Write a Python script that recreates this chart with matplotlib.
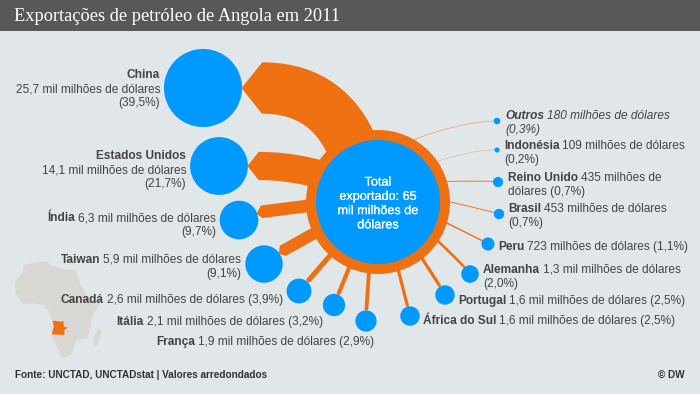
import numpy as np
import matplotlib
matplotlib.use('Agg')
import matplotlib.pyplot as plt
import matplotlib.patheffects as pe
from matplotlib.patches import Circle, Polygon, Rectangle

# data
countries = ['China', 'Estados Unidos', 'Índia', 'Taiwan', 'Canadá', 'Itália', 'França',
             'África do Sul', 'Portugal', 'Alemanha', 'Peru', 'Brasil', 'Reino Unido',
             'Indonésia', 'Outros']
values = [25.7, 14.1, 6.3, 5.9, 2.6, 2.1, 1.9, 1.6, 1.6, 1.3, 0.723, 0.453, 0.435, 0.109, 0.18]
amounts = ['25,7 mil milhões de dólares', '14,1 mil milhões de dólares', '6,3 mil milhões de dólares',
           '5,9 mil milhões de dólares', '2,6 mil milhões de dólares', '2,1 mil milhões de dólares',
           '1,9 mil milhões de dólares', '1,6 mil milhões de dólares', '1,6 mil milhões de dólares',
           '1,3 mil milhões de dólares', '723 milhões de dólares', '453 milhões de dólares',
           '435 milhões de dólares', '109 milhões de dólares', '180 milhões de dólares']
shares = [39.5, 21.7, 9.7, 9.1, 3.9, 3.2, 2.9, 2.5, 2.5, 2.0, 1.1, 0.7, 0.7, 0.2, 0.3]

title = 'Exportações de petróleo de Angola em 2011'
total_text = 'Total\nexportado: 65\nmil milhões de\ndólares'
source = 'Fonte: UNCTAD, UNCTADstat | Valores arredondados'
credit = '© DW'

# layout, everything in pixels
BG = '#e1e6e9'
ORANGE = '#ee7011'
BLUE = '#0099ff'
TEXT = '#444444'
CX, CY = 378, 202

bubble_x = [203, 219, 239, 264, 299, 334, 366, 410, 445, 470, 488, 499, 498, 497, 497]
bubble_y = [88, 166, 220, 264, 291, 305, 321, 316, 295, 274, 244, 214, 182, 150, 121]
start_deg = [0, 0, -20, -35, -48, -68, -88, -104, -120, -130, -150, -162, -174, -178, 178]
end_deg = [-115, -154, 177.5, 154.5, 132, 114, 98, 73, 51, 31, 15, -3, -20, -38, -70]
bend = [0.6, 0.5, 0, 0, 0, 0, 0, 0, 0, 0.15, 0, 0, 0.1, 0.3, 0.4]

align = ['right'] * 7 + ['left'] * 8
label_x = [160, 186, 216, 241, 283, 323, 374, 423, 458, 483, 498, 508, 508, 504, 505]
label_y = [74, 155, 217, 259, 299, 321, 341, 320, 300, 269, 246, 208, 177, 145, 115]
words_per_line = [[1, 5, 1], [2, 5, 1], [6, 1], [6, 1], [7], [7], [7], [9], [7], [6, 1],
                  [6], [5, 1], [5, 2], [5, 1], [5, 1]]

africa = np.array([(43, 85), (68, 50), (72, 30), (105, 22), (145, 18), (150, 32), (175, 38),
                   (205, 45), (225, 42), (240, 85), (258, 118), (300, 148), (278, 178),
                   (272, 215), (262, 250), (228, 258), (215, 298), (185, 310), (168, 270),
                   (155, 240), (158, 200), (145, 165), (130, 150), (100, 145), (70, 148),
                   (48, 115)]) / 3 + [0, 255]
madagascar = np.array([(280, 270), (282, 245), (295, 222), (305, 225), (298, 255), (290, 272)]) / 3 + [0, 255]
angola = np.array([(158, 197), (180, 200), (190, 198), (192, 215), (203, 218), (193, 225),
                   (193, 240), (155, 238), (162, 215)]) / 3 + [0, 255]
borders = [[(72, 30), (110, 75), (145, 105)], [(145, 18), (148, 75), (150, 150)],
           [(205, 45), (205, 130)], [(150, 110), (240, 105)], [(190, 198), (235, 170)],
           [(193, 240), (228, 258)]]

fig = plt.figure(figsize=(7, 3.94), dpi=100, facecolor=BG)
ax = fig.add_axes([0, 0, 1, 1])
ax.set_xlim(0, 700)
ax.set_ylim(394, 0)
ax.axis('off')


def connector(i):
    # band from the bubble to the ring, width follows the share
    w = shares[i] * 1.3
    a = np.radians(start_deg[i])
    d = np.array([np.cos(a), np.sin(a)])
    r = 7.7 * np.sqrt(values[i])
    tip = np.array([bubble_x[i], bubble_y[i]]) + d * (r - 0.5)
    p0 = tip + d * 0.4 * w
    e = np.radians(end_deg[i])
    p2 = np.array([CX + 60 * np.cos(e), CY + 60 * np.sin(e)])
    p1 = p0 + d * bend[i] * np.hypot(*(p2 - p0))
    if bend[i] == 0:
        p1 = (p0 + p2) / 2
    t = np.linspace(0, 1, 60)[:, None]
    curve = (1 - t) ** 2 * p0 + 2 * t * (1 - t) * p1 + t ** 2 * p2
    tang = np.gradient(curve, axis=0)
    tang = tang / np.hypot(tang[:, 0], tang[:, 1])[:, None]
    norm = np.column_stack([-tang[:, 1], tang[:, 0]])
    side1 = curve + norm * w / 2
    side2 = curve - norm * w / 2
    outline = np.vstack([[tip], side1, side2[::-1]])
    ax.add_patch(Polygon(outline, fc=ORANGE, ec='none', zorder=2))


def draw_line(x, y, bold, plain, side, style):
    # one text line, bold part then regular part
    kw = dict(fontsize=8.6, color=TEXT, family='Liberation Sans', style=style, va='baseline', zorder=5)
    rend = fig.canvas.get_renderer()
    t1 = ax.text(x, y, bold, fontweight='bold', **kw) if bold else None
    t2 = ax.text(x, y, plain, **kw) if plain else None
    w1 = t1.get_window_extent(rend).width if t1 else 0
    w2 = t2.get_window_extent(rend).width if t2 else 0
    gap = 3 if (t1 and t2) else 0
    left = x if side == 'left' else x - (w1 + gap + w2)
    if t1:
        t1.set_x(left)
    if t2:
        t2.set_x(left + w1 + gap)


def draw_label(i):
    name_words = countries[i].split()
    words = name_words + amounts[i].split() + ['(%s%%)' % str(shares[i]).replace('.', ',')]
    style = 'italic' if countries[i] == 'Outros' else 'normal'
    pos = 0
    y = label_y[i] + 4
    step = 14.2 if len(words_per_line[i]) > 1 else 0
    for n in words_per_line[i]:
        line = words[pos:pos + n]
        nb = max(0, min(len(name_words) - pos, n))
        draw_line(label_x[i], y, ' '.join(line[:nb]), ' '.join(line[nb:]), align[i], style)
        pos += n
        y += step


# header
ax.add_patch(Rectangle((0, 0), 700, 31, fc='#57585a', ec='none', zorder=1))
ax.text(14, 16, title, color='white', family='Liberation Serif', fontsize=13.25,
        va='center', ha='left', zorder=5)

# map
ax.add_patch(Polygon(africa, fc='#d9d7d4', ec='none', zorder=1))
ax.add_patch(Polygon(madagascar, fc='#d9d7d4', ec='none', zorder=1))
for b in borders:
    b = np.array(b) / 3 + [0, 255]
    ax.plot(b[:, 0], b[:, 1], color='#dfdddb', lw=0.4, zorder=1)
ax.add_patch(Polygon(angola, fc=ORANGE, ec='none', zorder=1.5))

# connectors, ring, bubbles
for i in range(len(countries)):
    connector(i)
ax.add_patch(Circle((CX, CY), 72, fc=ORANGE, ec='none', zorder=3))
ax.add_patch(Circle((CX, CY), 62, fc=BLUE, ec='none', zorder=4))
for i in range(len(countries)):
    ax.add_patch(Circle((bubble_x[i], bubble_y[i]), 7.7 * np.sqrt(values[i]), fc=BLUE, ec='none', zorder=4))
    draw_label(i)

ax.text(378, 204, total_text, color='white', family='Liberation Sans', fontsize=9.1,
        ha='center', va='center', linespacing=1.25, zorder=5,
        path_effects=[pe.withStroke(linewidth=0.12, foreground='white')])

# footer
ax.text(15, 375, source, color='#333333', family='Liberation Sans', fontsize=7.2,
        fontweight='bold', va='center', zorder=5)
ax.text(685, 375, credit, color='#333333', family='Liberation Sans', fontsize=7.2,
        fontweight='bold', va='center', ha='right', zorder=5)

fig.savefig('out.png', dpi=100, facecolor=BG)
